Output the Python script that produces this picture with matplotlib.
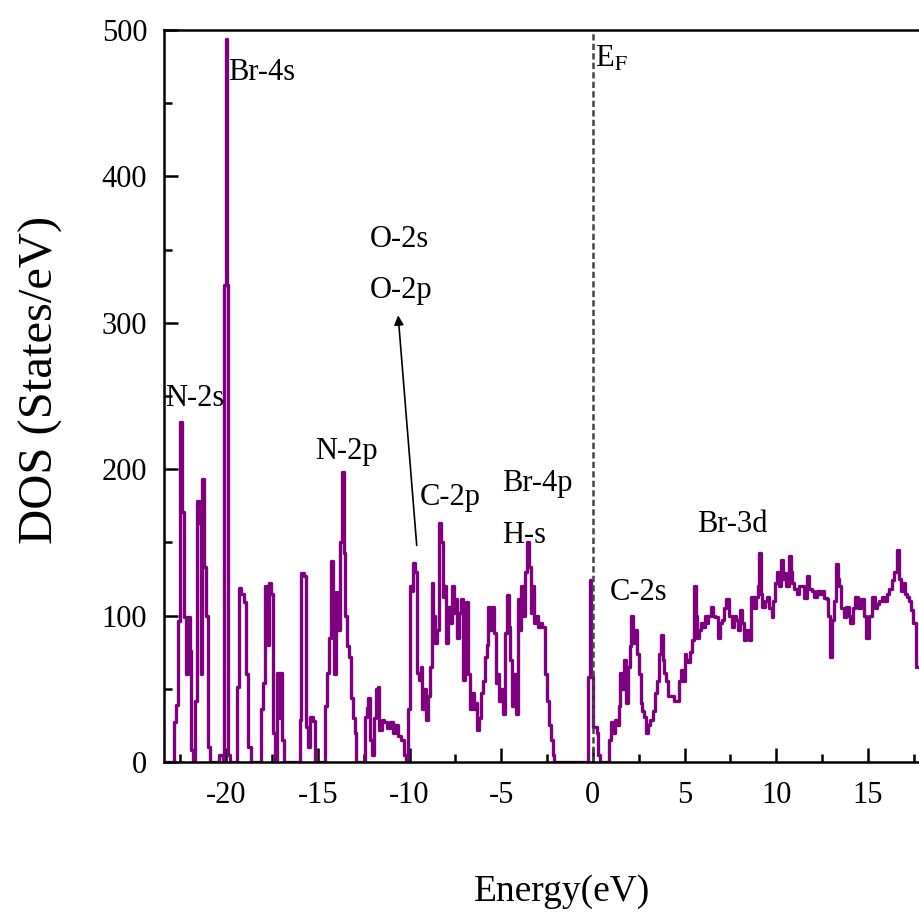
import numpy as np
import matplotlib
matplotlib.use('Agg')
from matplotlib import pyplot as plt
from matplotlib.ticker import MultipleLocator

plt.rcParams['font.family'] = ['Liberation Serif', 'DejaVu Serif']
plt.rcParams['mathtext.fontset'] = 'stix'
plt.rcParams['axes.unicode_minus'] = False

# 能量 (eV) 和 DOS (States/eV), 从图上读出来的
energy = [-23.4, -22.9, -22.8, -22.7, -22.6, -22.5, -22.35, -22.25, -22.15, -22.05, -21.95, -21.85, -21.75,
          -21.65, -21.55, -21.45, -21.35, -21.25, -21.15, -21.05, -20.95, -20.85, -20.5, -20.25, -20.15,
          -20.08, -20.0, -19.92, -19.85, -19.75,
          -19.45, -19.35, -19.25, -19.1, -18.95, -18.85, -18.75, -18.6,
          -18.15, -18.05, -17.95, -17.8, -17.7, -17.6, -17.5, -17.4, -17.3, -17.2, -17.1, -17.0, -16.9, -16.8,
          -16.05, -15.95, -15.85, -15.7, -15.6, -15.5, -15.35, -15.2, -15.1,
          -14.65, -14.55, -14.45, -14.35, -14.25, -14.15, -14.05, -13.95, -13.85, -13.75, -13.65, -13.55,
          -13.45, -13.35, -13.25, -13.15, -13.05, -12.95, -12.85,
          -12.5, -12.4, -12.3, -12.2, -12.1, -12.0, -11.9, -11.8, -11.7, -11.6, -11.45, -11.3, -11.15,
          -11.0, -10.85, -10.7, -10.55, -10.4, -10.25, -10.15,
          -10.05, -9.95, -9.85, -9.75, -9.65, -9.55, -9.45, -9.35, -9.25, -9.15, -9.05, -8.95, -8.85,
          -8.75, -8.65, -8.55, -8.45, -8.35, -8.25, -8.15, -8.05, -7.95, -7.85, -7.75, -7.65, -7.55,
          -7.45, -7.35, -7.25, -7.15, -7.05, -6.95, -6.85, -6.75, -6.65, -6.55, -6.45, -6.35, -6.25,
          -6.15, -6.05, -5.95, -5.85, -5.75, -5.65, -5.55, -5.45, -5.35, -5.25, -5.15, -5.05, -4.95,
          -4.85, -4.75, -4.65, -4.55, -4.45, -4.35, -4.25, -4.15, -4.05, -3.95, -3.85, -3.75, -3.65,
          -3.55, -3.45, -3.35, -3.25, -3.15, -3.05, -2.95, -2.85, -2.75, -2.65, -2.55, -2.45, -2.35,
          -2.25, -2.15, -2.05,
          -0.3, -0.2, -0.12, -0.05, 0.05, 0.15, 0.25, 0.35, 0.45,
          0.85, 0.95, 1.05, 1.15, 1.25, 1.35, 1.45, 1.55, 1.65, 1.75, 1.85, 1.95, 2.05, 2.15, 2.25,
          2.35, 2.45, 2.55, 2.65, 2.75, 2.85, 2.95, 3.05, 3.15, 3.25, 3.35, 3.45, 3.55, 3.65, 3.75,
          3.85, 3.95, 4.05, 4.15, 4.25, 4.35, 4.45, 4.55, 4.65, 4.75, 4.85, 4.95, 5.05, 5.15, 5.25,
          5.35, 5.45, 5.55, 5.65, 5.75, 5.85, 5.95, 6.05, 6.15, 6.25, 6.35, 6.5, 6.6, 6.75, 6.9,
          7.0, 7.1, 7.2, 7.35, 7.5, 7.65, 7.75, 7.85, 7.95, 8.1, 8.2, 8.3, 8.45, 8.55, 8.7, 8.85,
          8.95, 9.05, 9.1, 9.2, 9.3, 9.45, 9.55, 9.7, 9.8, 9.9, 10.0, 10.1, 10.2, 10.3, 10.4, 10.5,
          10.6, 10.75, 10.85, 10.9, 11.05, 11.2, 11.3, 11.45, 11.6, 11.75, 11.85, 12.0, 12.15, 12.3,
          12.45, 12.55, 12.7, 12.8, 12.9, 13.0, 13.1, 13.2, 13.3, 13.4, 13.5, 13.6, 13.75, 13.9,
          14.0, 14.1, 14.25, 14.4, 14.55, 14.7, 14.85, 15.0, 15.15, 15.3, 15.45, 15.55, 15.7, 15.8,
          15.95, 16.1, 16.25, 16.35, 16.5, 16.65, 16.75, 16.85, 17.0, 17.1, 17.2, 17.3, 17.4, 17.55,
          17.7, 18.0, 18.5]

dos = [0, 0, 27, 39, 96, 232, 171, 99, 60, 99, 76, 8, 0,
       42, 178, 163, 60, 193, 133, 100, 10, 0, 0, 5, 0,
       326, 494, 326, 5, 0,
       0, 51, 119, 115, 109, 60, 10, 0,
       0, 36, 54, 120, 80, 122, 115, 20, 0, 61, 30, 61, 15, 0,
       0, 29, 129, 127, 24, 10, 31, 28, 0,
       0, 38, 61, 85, 137, 108, 60, 116, 90, 150, 198, 143,
       100, 79, 72, 44, 30, 20, 0,
       0, 31, 37, 44, 15, 5, 30, 50, 51, 22, 29, 27, 23,
       27, 20, 25, 18, 15, 5, 0,
       36, 120, 117, 136, 130, 61, 56, 65, 36, 50, 29, 45, 65,
       122, 100, 81, 90, 163, 150, 113, 120, 81, 106, 95, 120, 102,
       111, 85, 102, 111, 56, 80, 109, 60, 36, 47, 36, 40, 22,
       30, 47, 55, 72, 80, 106, 90, 106, 88, 54, 60, 42, 50,
       33, 88, 114, 92, 70, 38, 60, 33, 111, 90, 120, 100, 130,
       150, 133, 102, 120, 95, 100, 92, 95, 92, 92, 60, 42, 25,
       15, 5, 0,
       0, 58, 124, 58, 24, 24, 20, 5, 0,
       0, 15, 27, 20, 29, 25, 38, 61, 50, 70, 40, 65, 79, 100, 81,
       90, 74, 60, 40, 35, 31, 20, 25, 29, 29, 35, 47, 55, 74, 87,
       70, 61, 55, 45, 45, 45, 42, 42, 42, 55, 63, 55, 74, 70, 68,
       75, 83, 120, 100, 85, 90, 95, 92, 100, 95, 100, 106, 100, 99, 85,
       95, 97, 105, 111, 100, 92, 100, 97, 90, 104, 95, 83, 90, 83, 113, 105,
       113, 120, 143, 115, 106, 110, 113, 105, 99, 110, 122, 130, 120, 138, 125, 129,
       120, 141, 130, 122, 118, 115, 120, 120, 112, 127, 118, 117, 113, 117,
       115, 117, 112, 111, 100, 72, 97, 110, 135, 125, 120, 105, 99, 106,
       100, 95, 105, 113, 105, 111, 100, 85, 100, 113, 105, 108, 110, 113,
       110, 115, 118, 124, 130, 145, 125, 117, 122, 115, 113, 110, 104, 95,
       65, 65, 70]

xticks = [-20, -15, -10, -5, 0, 5, 10, 15]
yticks = [0, 100, 200, 300, 400, 500]

labels = ['Br-4s', 'N-2s', 'O-2s', 'O-2p', 'N-2p', 'C-2p', 'Br-4p', 'H-s', 'C-2s', 'Br-3d']
label_x = [-19.9, -23.35, -12.17, -12.17, -15.17, -9.44, -4.96, -4.96, 0.93, 5.67]
label_y = [471, 248, 357, 322, 212, 181, 190, 155, 116, 162]

fig = plt.figure(figsize=(9.19, 9.13), dpi=100)
ax = fig.add_axes([164 / 919, 151 / 913, 43.4 * 18.33 / 919, 732 / 913])

ax.plot(energy, dos, drawstyle='steps-mid', color='#7f007f', lw=2.4)
ax.axvline(0, color='#444444', lw=1.8, ls=(0, (2.5, 1.3)))

ax.set_xlim(-23.4, 20)
ax.set_ylim(0, 500)
ax.set_xticks(xticks)
ax.set_yticks(yticks)
ax.xaxis.set_minor_locator(MultipleLocator(2.5))
ax.yaxis.set_minor_locator(MultipleLocator(50))
ax.tick_params(which='both', direction='in', width=1.8, labelsize=22)
ax.tick_params(which='major', length=10)
ax.tick_params(which='minor', length=6)
ax.tick_params(axis='x', pad=14)
ax.tick_params(axis='y', pad=12)
for s in ax.spines.values():
    s.set_linewidth(1.8)

ax.set_xlabel('Energy(eV)', fontsize=27, labelpad=46)
ax.set_ylabel('DOS (States/eV)', fontsize=35)
ax.yaxis.set_label_coords(-0.127, 0.522)

for t, x, y in zip(labels, label_x, label_y):
    ax.text(x, y, t, fontsize=22, va='center', ha='left')

ax.text(0.12, 490, r'E$_{\mathrm{F}}$', fontsize=22, va='top', ha='left')

ax.annotate('', xy=(-10.64, 307), xytext=(-9.6, 146),
            arrowprops=dict(arrowstyle='-|>', color='black', lw=1.2, mutation_scale=14))

plt.savefig('out.png', dpi=100)
